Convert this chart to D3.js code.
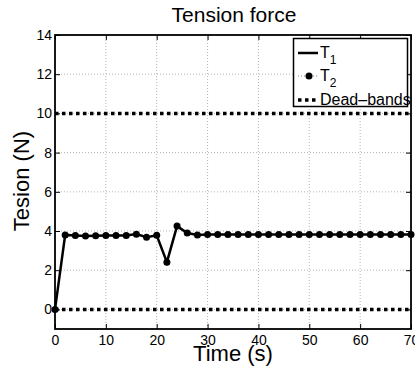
<!DOCTYPE html>
<html>
<head>
<meta charset="utf-8">
<script src="https://cdn.jsdelivr.net/npm/d3@7"></script>
<style>
  body { margin: 0; background: #fff; }
  text { font-family: "Liberation Sans", Arial, sans-serif; fill: #000; }
</style>
</head>
<body>
<div id="chart"></div>
<script>
var times = [0, 2, 4, 6, 8, 10, 12, 14, 16, 18, 20, 22, 24, 26, 28, 30, 32, 34,
  36, 38, 40, 42, 44, 46, 48, 50, 52, 54, 56, 58, 60, 62, 64, 66, 68, 70];
var tension1 = [0, 3.8, 3.77, 3.75, 3.76, 3.77, 3.77, 3.77, 3.84, 3.68, 3.78, 2.41, 4.25, 3.9, 3.8, 3.82,
  3.82, 3.82, 3.82, 3.82, 3.82, 3.82, 3.82, 3.82, 3.82, 3.82, 3.82, 3.82, 3.82, 3.82, 3.82, 3.82,
  3.82, 3.82, 3.82, 3.82];
var tension2 = tension1.slice();
var deadBands = [0, 10];
var xTicks = [0, 10, 20, 30, 40, 50, 60, 70];
var yTicks = [0, 2, 4, 6, 8, 10, 12, 14];

var W = 415, H = 373;
var margin = {left: 55, right: 4, top: 35, bottom: 44};

var svg = d3.select("#chart").append("svg")
  .attr("width", W).attr("height", H);

var x = d3.scaleLinear().domain([0, 70]).range([margin.left, W - margin.right]);
var y = d3.scaleLinear().domain([-1, 14]).range([H - margin.bottom, margin.top]);

// grid
svg.append("g").selectAll("line").data(xTicks.slice(1, -1)).join("line")
  .attr("x1", d => x(d)).attr("x2", d => x(d))
  .attr("y1", y(-1)).attr("y2", y(14))
  .attr("stroke", "#b5b5b5").attr("stroke-width", 1).attr("stroke-dasharray", "1,2");
svg.append("g").selectAll("line").data(yTicks.slice(0, -1)).join("line")
  .attr("x1", x(0)).attr("x2", x(70))
  .attr("y1", d => y(d)).attr("y2", d => y(d))
  .attr("stroke", "#b5b5b5").attr("stroke-width", 1).attr("stroke-dasharray", "1,2");

// axes (MATLAB style, ticks inside)
var ax = svg.append("g").attr("transform", "translate(0," + y(-1) + ")")
  .call(d3.axisBottom(x).tickValues(xTicks).tickSizeInner(-5).tickSizeOuter(0).tickPadding(6));
var ay = svg.append("g").attr("transform", "translate(" + x(0) + ",0)")
  .call(d3.axisLeft(y).tickValues(yTicks).tickSizeInner(-5).tickSizeOuter(0).tickPadding(3));
var axt = svg.append("g").attr("transform", "translate(0," + y(14) + ")")
  .call(d3.axisTop(x).tickValues(xTicks).tickSizeInner(-5).tickSizeOuter(0).tickFormat(""));
var ayr = svg.append("g").attr("transform", "translate(" + x(70) + ",0)")
  .call(d3.axisRight(y).tickValues(yTicks).tickSizeInner(-5).tickSizeOuter(0).tickFormat(""));
[ax, ay, axt, ayr].forEach(function(g) {
  g.select(".domain").remove();
  g.selectAll("line").attr("stroke", "#000");
  g.selectAll("text").style("font-size", "14px")
    .style("font-family", "'Liberation Sans', Arial, sans-serif");
});

svg.append("rect")
  .attr("x", x(0)).attr("y", y(14))
  .attr("width", x(70) - x(0)).attr("height", y(-1) - y(14))
  .attr("fill", "none").attr("stroke", "#000").attr("stroke-width", 1.8);

// dead bands
svg.append("g").selectAll("line").data(deadBands).join("line")
  .attr("x1", x(0)).attr("x2", x(70))
  .attr("y1", d => y(d)).attr("y2", d => y(d))
  .attr("stroke", "#000").attr("stroke-width", 3.5).attr("stroke-dasharray", "3.5,3.5");

var line = d3.line().x((d, i) => x(times[i])).y(d => y(d));

svg.append("path").datum(tension2).attr("d", line)
  .attr("fill", "none").attr("stroke", "#888").attr("stroke-width", 1).attr("stroke-dasharray", "1,2");
svg.append("path").datum(tension1).attr("d", line)
  .attr("fill", "none").attr("stroke", "#000").attr("stroke-width", 2.5);
svg.append("g").selectAll("circle").data(tension2).join("circle")
  .attr("cx", (d, i) => x(times[i])).attr("cy", d => y(d)).attr("r", 3.5)
  .attr("fill", "#000");

// legend
var lg = svg.append("g");
lg.append("rect").attr("x", 293.5).attr("y", 38.5).attr("width", 114).attr("height", 68)
  .attr("fill", "#fff").attr("stroke", "#000").attr("stroke-width", 1.5);
lg.append("line").attr("x1", 298).attr("x2", 318).attr("y1", 53).attr("y2", 53)
  .attr("stroke", "#000").attr("stroke-width", 2.5);
lg.append("line").attr("x1", 298).attr("x2", 318).attr("y1", 76).attr("y2", 76)
  .attr("stroke", "#888").attr("stroke-width", 1).attr("stroke-dasharray", "1,2");
lg.append("circle").attr("cx", 309).attr("cy", 76).attr("r", 3.5).attr("fill", "#000");
lg.append("line").attr("x1", 298).attr("x2", 318).attr("y1", 100).attr("y2", 100)
  .attr("stroke", "#000").attr("stroke-width", 3.5).attr("stroke-dasharray", "3.5,3.5");

var legendLabels = [["T", "1", 58], ["T", "2", 81]];
legendLabels.forEach(function(l) {
  var t = lg.append("text").attr("x", 320).attr("y", l[2]).style("font-size", "16px");
  t.append("tspan").text(l[0]);
  t.append("tspan").attr("dy", 6).style("font-size", "12px").text(l[1]);
});
lg.append("text").attr("x", 320).attr("y", 105).style("font-size", "16px").text("Dead\u2013bands");

// titles
svg.append("text").attr("x", 234).attr("y", 22).attr("text-anchor", "middle")
  .style("font-size", "21px").text("Tension force");
svg.append("text").attr("x", 233).attr("y", 361).attr("text-anchor", "middle")
  .style("font-size", "22px").text("Time (s)");
svg.append("text").attr("transform", "translate(29,181) rotate(-90)")
  .attr("text-anchor", "middle").style("font-size", "22px").text("Tesion (N)");
</script>
</body>
</html>
